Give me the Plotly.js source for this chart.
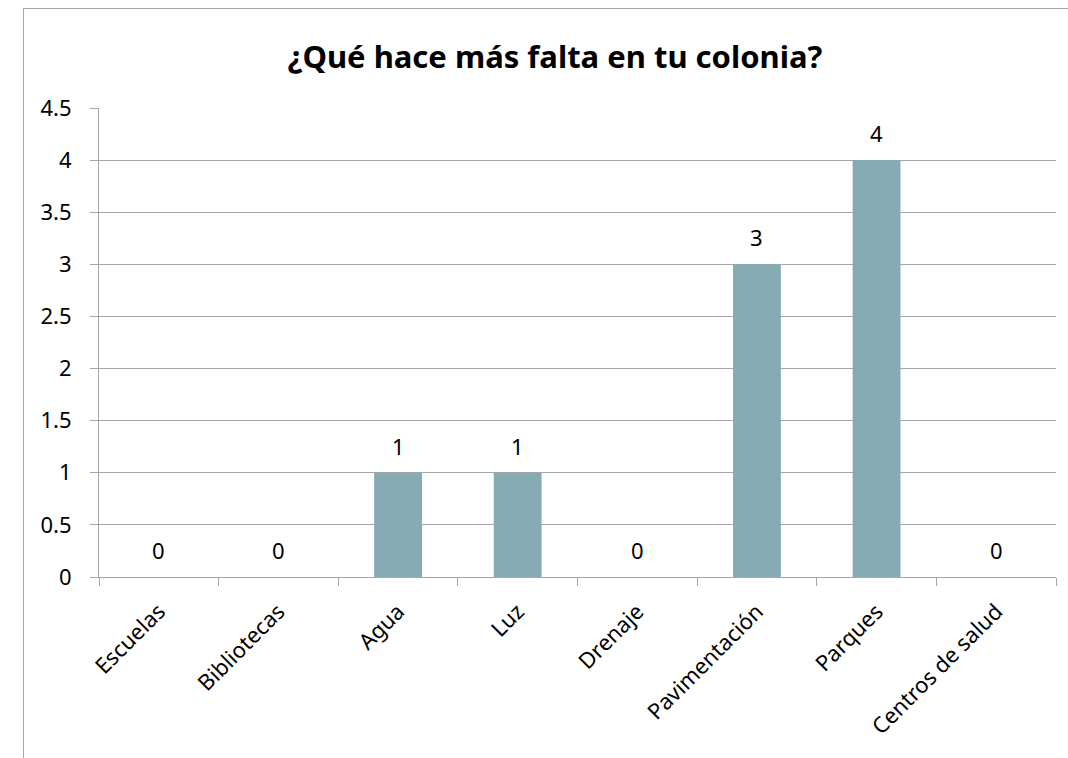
<!DOCTYPE html>
<html><head><meta charset="utf-8">
<script src="https://cdn.plot.ly/plotly-3.0.1.min.js"></script>
<style>html,body{margin:0;padding:0;background:#fff;}#wrap{position:relative;width:1068px;height:758px;overflow:hidden;}#chart{width:1068px;height:758px;}#frame{position:absolute;left:23px;top:8px;width:1200px;height:900px;border-left:1px solid #a6a6a6;border-top:1px solid #a6a6a6;pointer-events:none;}</style>
</head><body><div id="wrap"><div id="chart"></div><div id="frame"></div></div>
<script>
const categories = ["Escuelas","Bibliotecas","Agua","Luz","Drenaje","Pavimentación","Parques","Centros de salud"];
const values = [0,0,1,1,0,3,4,0];
const yTicks = [0,0.5,1,1.5,2,2.5,3,3.5,4,4.5];
const yTickText = ["0","0.5","1","1.5","2","2.5","3","3.5","4","4.5"];
const titleText = "¿Qué hace más falta en tu colonia?";
const FONT = "Noto Sans, Open Sans, sans-serif";

const annotations = categories.map((c,i)=>({x:c,y:values[i],xref:'x',yref:'y',text:String(values[i]),showarrow:false,yshift:27,font:{family:FONT,size:22,color:'#000'}}));

Plotly.newPlot('chart',[{
  type:'bar',x:categories,y:values,marker:{color:'#87abb5'},width:0.4,hoverinfo:'none'
}],{
  width:1068,height:758,
  margin:{l:99,r:12,t:108,b:181},
  paper_bgcolor:'#fff',plot_bgcolor:'#fff',
  showlegend:false,
  title:{text:'<b>'+titleText+'</b>',x:555/1068,xanchor:'center',xref:'container',y:1-57/758,yanchor:'middle',yref:'container',font:{family:FONT,size:31,color:'#000'}},
  xaxis:{type:'category',tickson:'boundaries',ticks:'outside',ticklen:8,tickcolor:'#a6a6a6',showline:true,linecolor:'#a6a6a6',linewidth:1,tickangle:-45,ticklabelstandoff:12,tickfont:{family:FONT,size:22,color:'#000'},showgrid:false,fixedrange:true},
  yaxis:{range:[0,4.5],tickvals:yTicks,ticktext:yTickText,ticks:'outside',ticklen:8,tickcolor:'#a6a6a6',showline:true,linecolor:'#a6a6a6',linewidth:1,showgrid:true,gridcolor:'#a6a6a6',gridwidth:1,zeroline:false,ticklabelstandoff:14,tickfont:{family:FONT,size:22,color:'#000'},fixedrange:true},
  annotations:annotations
},{displayModeBar:false,staticPlot:true});
</script></body></html>
